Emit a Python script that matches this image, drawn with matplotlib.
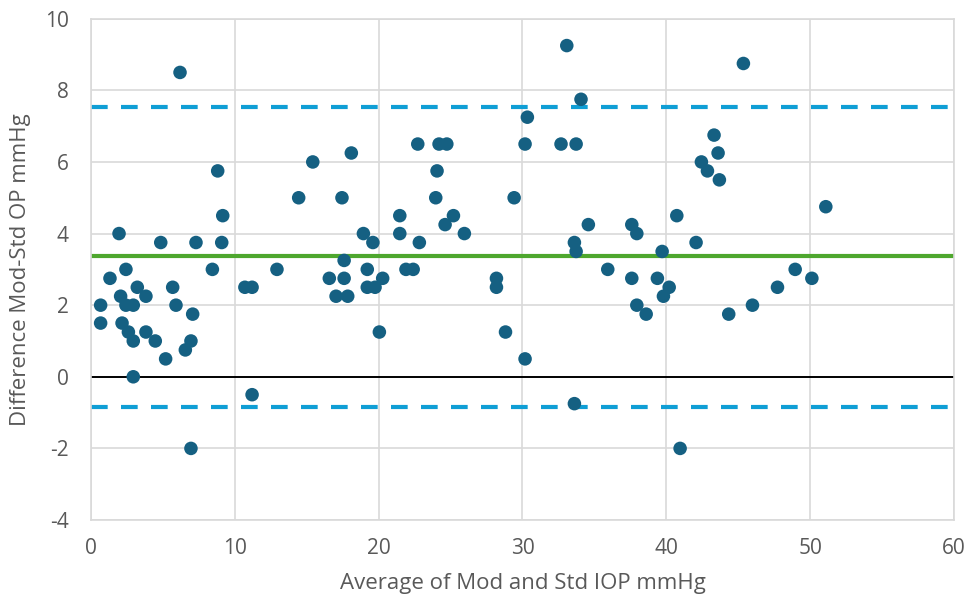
import matplotlib
matplotlib.use("Agg")
import matplotlib.pyplot as plt

# Bland-Altman data: average of the two methods vs. difference
avg_iop = [0.67, 0.67, 1.32, 1.95, 2.06, 2.16, 2.43, 2.43, 2.6, 2.94,
           2.94, 2.94, 3.22, 3.82, 3.82, 4.47, 4.85, 5.19, 5.68, 5.91,
           6.19, 6.56, 6.95, 6.95, 7.07, 7.30, 8.44, 8.81, 9.09, 9.16,
           10.7, 11.2, 11.2, 12.93, 14.44, 15.42, 16.57, 17.04, 17.45, 17.6,
           17.6, 17.85, 18.1, 18.94, 19.21, 19.21, 19.6, 19.75, 20.05, 20.28,
           21.47, 21.47, 21.9, 22.4, 22.72, 22.83, 23.97, 24.06, 24.2, 24.62,
           24.74, 25.2, 25.96, 28.19, 28.19, 28.82, 29.42, 30.18, 30.34, 30.18,
           32.68, 33.08, 33.61, 33.73, 33.73, 33.61, 34.07, 34.58, 35.93, 37.6,
           37.6, 37.95, 37.95, 38.6, 39.38, 39.71, 39.8, 40.2, 40.73, 40.96,
           42.07, 42.44, 42.86, 43.32, 43.6, 43.69, 44.34, 45.36, 45.99, 47.73,
           48.96, 50.12, 51.09]
diff_iop = [1.5, 2.0, 2.75, 4.0, 2.25, 1.5, 3.0, 2.0, 1.25, 2.0,
            1.0, 0.0, 2.5, 2.25, 1.25, 1.0, 3.75, 0.5, 2.5, 2.0,
            8.5, 0.75, 1.0, -2.0, 1.75, 3.75, 3.0, 5.75, 3.75, 4.5,
            2.5, 2.5, -0.5, 3.0, 5.0, 6.0, 2.75, 2.25, 5.0, 3.25,
            2.75, 2.25, 6.25, 4.0, 3.0, 2.5, 3.75, 2.5, 1.25, 2.75,
            4.5, 4.0, 3.0, 3.0, 6.5, 3.75, 5.0, 5.75, 6.5, 4.25,
            6.5, 4.5, 4.0, 2.75, 2.5, 1.25, 5.0, 6.5, 7.25, 0.5,
            6.5, 9.25, 3.75, 3.5, 6.5, -0.75, 7.75, 4.25, 3.0, 4.25,
            2.75, 4.0, 2.0, 1.75, 2.75, 3.5, 2.25, 2.5, 4.5, -2.0,
            3.75, 6.0, 5.75, 6.75, 6.25, 5.5, 1.75, 8.75, 2.0, 2.5,
            3.0, 2.75, 4.75]

mean_diff = 3.37
upper_loa = 7.53
lower_loa = -0.83

x_ticks = [0, 10, 20, 30, 40, 50, 60]
y_ticks = [-4, -2, 0, 2, 4, 6, 8, 10]

plt.rcParams['font.family'] = ['Open Sans', 'DejaVu Sans']
plt.rcParams['axes.unicode_minus'] = False

fig = plt.figure(figsize=(9.68, 6.0), dpi=100)
ax = fig.add_axes([0.094, 0.1333, 0.8915, 0.8355])

grid_col = '#D9D9D9'
text_col = '#595959'

ax.set_xlim(0, 60)
ax.set_ylim(-4, 10)
ax.set_xticks(x_ticks)
ax.set_yticks(y_ticks)
ax.set_axisbelow(True)
ax.grid(True, color=grid_col, linewidth=1.2)
for s in ax.spines.values():
    s.set_color(grid_col)
    s.set_linewidth(1.2)
ax.tick_params(length=0, labelsize=15, colors=text_col)
ax.tick_params(axis='x', pad=13)
ax.tick_params(axis='y', pad=16)

ax.axhline(0, color='black', linewidth=1.4, zorder=2)
ax.axhline(mean_diff, color='#4EA72E', linewidth=3, zorder=2)
ax.axhline(upper_loa, color='#0F9ED5', linewidth=3, dashes=(4, 3.2), zorder=2)
ax.axhline(lower_loa, color='#0F9ED5', linewidth=3, dashes=(4, 3.2), zorder=2)

ax.scatter(avg_iop, diff_iop, s=95, color='#156082', edgecolors='none', zorder=3)

ax.set_xlabel('Average of Mod and Std IOP mmHg', fontsize=16, color=text_col, labelpad=10)
ax.set_ylabel('Difference Mod-Std OP mmHg', fontsize=16, color=text_col, labelpad=10)

fig.savefig('out.png', dpi=100, facecolor='white')
